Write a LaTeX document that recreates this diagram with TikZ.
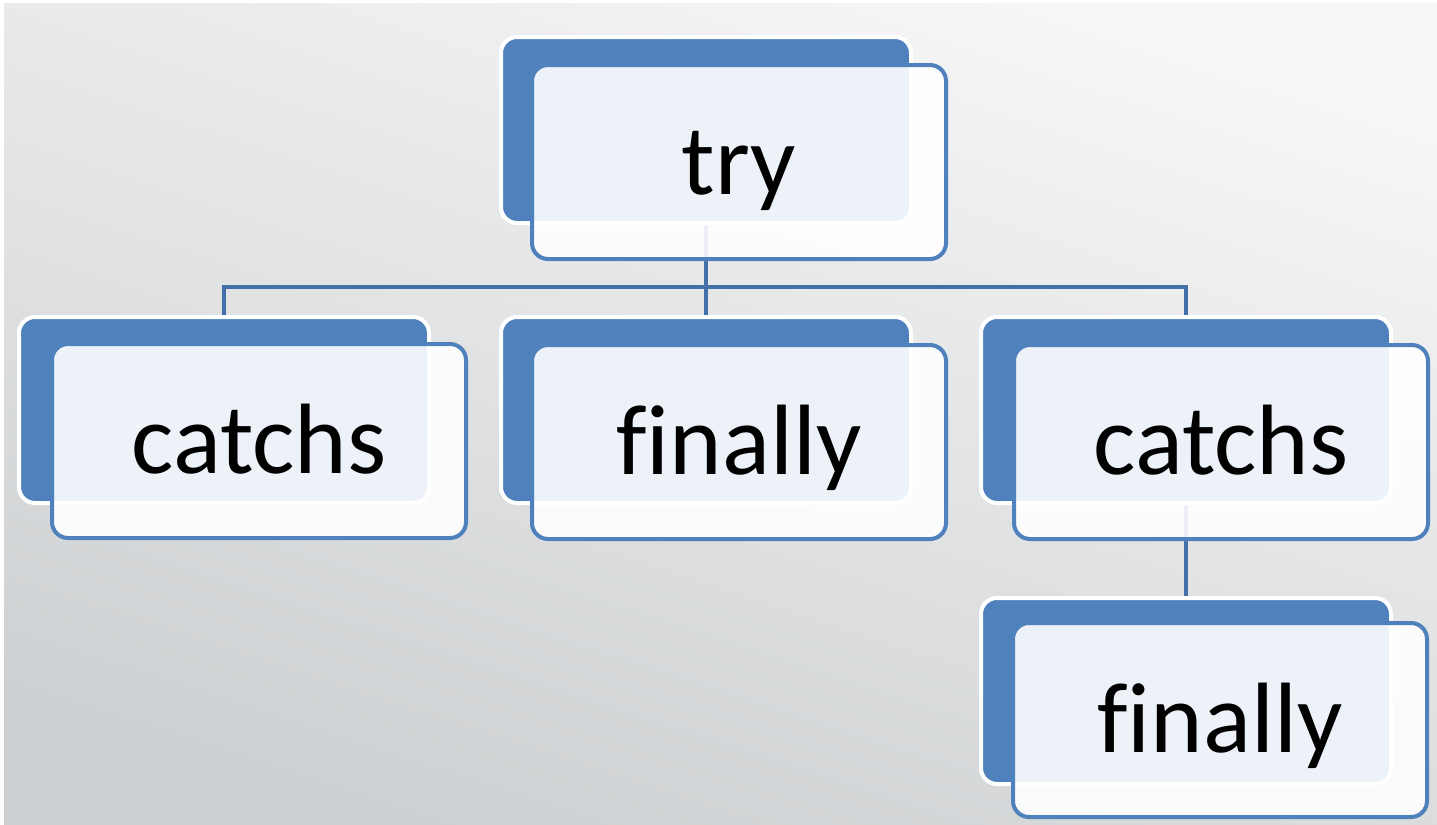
\documentclass[tikz,border=0pt]{standalone}
\usepackage{fontspec}
\setmainfont{Carlito}[Ligatures=NoCommon]
\definecolor{bblue}{HTML}{4F81BD}
\definecolor{lblue}{HTML}{4470A9}
\definecolor{bgtop}{HTML}{F6F6F7}
\definecolor{bgbot}{HTML}{CDD0D2}
\pgfdeclarelayer{bg}
\pgfdeclarelayer{conn}
\pgfsetlayers{bg,conn,main}
\begin{document}
\begin{tikzpicture}[x=0.5pt,y=-0.5pt,
  backbox/.style={draw=white, line width=2pt, fill=bblue, rounded corners=8pt,
    minimum width=205pt, minimum height=93pt, inner sep=0pt},
  frontbox/.style={draw=bblue, line width=2pt, fill=white, fill opacity=0.9,
    text opacity=1, rounded corners=8pt, minimum width=207pt, minimum height=97pt,
    inner sep=0pt, font=\fontsize{50pt}{60pt}\selectfont, text height=32pt, text depth=0pt},
  conn/.style={draw=lblue, line width=1.8pt}]
\useasboundingbox (0,0) rectangle (1437,825);
% try
\node[backbox] (tryb) at (706,130) {};
\node[frontbox] (tryf) at (739,162) {try};
% catchs left
\node[backbox] (c1b) at (224,410) {};
\node[frontbox] (c1f) at (259,441) {catchs};
% finally middle
\node[backbox] (f1b) at (706,410) {};
\node[frontbox] (f1f) at (739,442) {finally};
% catchs right
\node[backbox] (c2b) at (1186,410) {};
\node[frontbox] (c2f) at (1221,442) {catchs};
% finally bottom
\node[backbox] (f2b) at (1186,691) {};
\node[frontbox] (f2f) at (1220,720) {finally};
\coordinate (bus) at (0,287);
\begin{pgfonlayer}{conn}
  \draw[conn] (tryb.center) -- (tryb.center |- bus) -| (c1b.center);
  \draw[conn] (tryb.center |- bus) -| (c2b.center);
  \draw[conn] (tryb.center |- bus) -- (f1b.center);
  \draw[conn] (c2b.center) -- (f2b.center);
\end{pgfonlayer}
\begin{pgfonlayer}{bg}
  \fill[white] (0,0) rectangle (1437,825);
  \shade[top color=bgtop, bottom color=bgbot, shading angle=-18] (4,3) rectangle (1437,824);
\end{pgfonlayer}
\end{tikzpicture}
\end{document}
